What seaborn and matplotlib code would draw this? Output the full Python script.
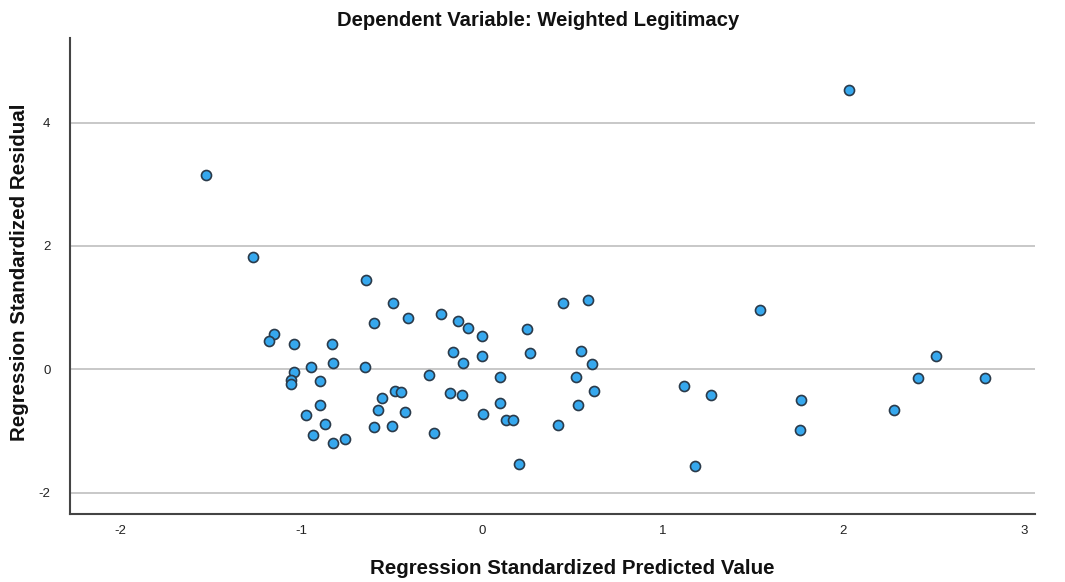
import matplotlib
matplotlib.use("Agg")
import matplotlib.pyplot as plt
import seaborn as sns
import pandas as pd

predicted = [-1.528, -1.265, -1.150, -1.179, -1.043, -1.041, -1.058, -1.056, -0.947, -0.895,
             -0.973, -0.895, -0.868, -0.936, -0.822, -0.759, -0.829, -0.823, -0.641, -0.598,
             -0.645, -0.493, -0.408, -0.552, -0.484, -0.449, -0.578, -0.427, -0.595, -0.499,
             -0.292, -0.268, -0.228, -0.132, -0.076, 0.001, -0.160, -0.104, 0.001, -0.176,
             -0.113, 0.007, 0.098, 0.100, 0.134, 0.171, 0.202, 0.250, 0.263, 0.448,
             0.586, 0.549, 0.608, 0.520, 0.617, 0.532, 0.420,
             2.030, 1.536, 2.510, 2.412, 2.785, 1.119, 1.267, 1.766, 2.277, 1.761, 1.176]
residual = [3.144, 1.815, 0.572, 0.459, 0.405, -0.049, -0.173, -0.243, 0.037, -0.190,
            -0.736, -0.584, -0.887, -1.065, -1.200, -1.125, 0.405, 0.107, 1.452, 0.755,
            0.042, 1.070, 0.826, -0.470, -0.347, -0.363, -0.665, -0.692, -0.940, -0.914,
            -0.092, -1.032, 0.891, 0.788, 0.669, 0.540, 0.285, 0.102, 0.211, -0.379,
            -0.422, -0.724, -0.120, -0.541, -0.822, -0.817, -1.530, 0.648, 0.264, 1.075,
            1.128, 0.292, 0.086, -0.120, -0.352, -0.579, -0.903,
            4.532, 0.961, 0.211, -0.141, -0.141, -0.265, -0.417, -0.503, -0.660, -0.989, -1.567]

x_ticks = [-2, -1, 0, 1, 2, 3]
y_ticks = [-2, 0, 2, 4]

df = pd.DataFrame({"pred": predicted, "resid": residual})

sns.set_style("white")
plt.rcParams['font.family'] = ['Liberation Sans', 'DejaVu Sans']

fig = plt.figure(figsize=(10.65, 5.82), dpi=100)
ax = fig.add_axes([70/1065, 1 - 514.3/582, (1035 - 70)/1065, (514.3 - 38)/582])

for yv in y_ticks:
    ax.axhline(yv, color="#c4c4c4", lw=1.3, zorder=0)

sns.scatterplot(data=df, x="pred", y="resid", ax=ax, s=52, color="#36a8ee",
                edgecolor="#2a3a4a", linewidth=1.2, zorder=3)

ax.set_xlim(-2.28, 3.06)
ax.set_ylim(-2.35, 5.37)
ax.set_xticks(x_ticks)
ax.set_yticks(y_ticks)
ax.set_xticklabels([str(v) for v in x_ticks])
ax.set_yticklabels([str(v) for v in y_ticks])
ax.tick_params(axis="both", length=0, labelsize=9.5, colors="#222222")
ax.tick_params(axis="x", pad=8)
ax.tick_params(axis="y", pad=14)

for side in ["top", "right"]:
    ax.spines[side].set_visible(False)
for side in ["left", "bottom"]:
    ax.spines[side].set_color("#444444")
    ax.spines[side].set_linewidth(1.5)

ax.set_xlabel("")
ax.set_ylabel("")
fig.text(572.5/1065, 1 - 568/582, "Regression Standardized Predicted Value",
         ha="center", va="center", fontsize=14.8, fontweight="bold", color="#111111")
fig.text(20/1065, 1 - 272/582, "Regression Standardized Residual", rotation=90,
         ha="center", va="center", fontsize=14.8, fontweight="bold", color="#111111")
fig.text(538/1065, 1 - 20/582, "Dependent Variable: Weighted Legitimacy",
         ha="center", va="center", fontsize=14.6, fontweight="bold", color="#111111")

fig.savefig("out.png", dpi=100)
